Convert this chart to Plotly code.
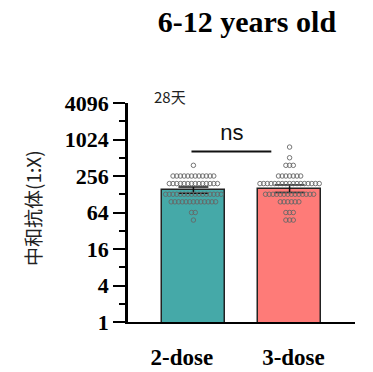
import plotly.graph_objects as go
import numpy as np

# ---- data ----
groups = ["2-dose", "3-dose"]
bar_gmt = [150, 158]
err_plus = [19, 24]
err_minus = [17, 21]
levels = [768, 512, 384, 256, 192, 128, 96, 64, 48]
counts_2dose = [0, 0, 1, 12, 14, 16, 13, 2, 1]
counts_3dose = [1, 1, 3, 7, 17, 14, 6, 3, 3]
y_ticks = [1, 4, 16, 64, 256, 1024, 4096]
y_minor = [2, 8, 32, 128, 512, 2048]
ns_y = 648
ns_text_y = 1225

colors = ["#45a9a8", "#fe7b78"]
xpos = [0, 1]
spacing = 0.0385

fig = go.Figure()
fig.add_trace(go.Bar(
    x=xpos, y=bar_gmt, width=0.66,
    marker=dict(color=colors, line=dict(color="#222222", width=1.5)),
    error_y=dict(type="data", array=err_plus, arrayminus=err_minus,
                 color="#111111", thickness=1.5, width=15),
    showlegend=False, hoverinfo="skip"))

for gi, counts in enumerate([counts_2dose, counts_3dose]):
    xs, ys = [], []
    for lv, n in zip(levels, counts):
        for j in range(n):
            xs.append(xpos[gi] + (j - (n - 1) / 2) * spacing)
            ys.append(lv)
    fig.add_trace(go.Scatter(
        x=xs, y=ys, mode="markers",
        marker=dict(symbol="circle-open", size=4.5, color="#666666",
                    line=dict(width=0.9, color="#666666")),
        showlegend=False, hoverinfo="skip"))

# significance line
fig.add_trace(go.Scatter(x=[-0.02, 0.81], y=[ns_y, ns_y], mode="lines",
                         line=dict(color="#111111", width=2),
                         showlegend=False, hoverinfo="skip"))
fig.add_trace(go.Scatter(x=[0.40], y=[ns_text_y], mode="text", text=["ns"],
                         textfont=dict(family="Liberation Sans", size=22, color="#111111"),
                         showlegend=False, hoverinfo="skip"))

fig.update_layout(
    width=373, height=372,
    margin=dict(l=128, r=18, t=103, b=50),
    plot_bgcolor="white", paper_bgcolor="white",
    bargap=0,
    title=dict(text="6-12 years old", x=0.662, xref="container", xanchor="center",
               y=1 - 21 / 372, yref="container", yanchor="middle",
               font=dict(family="Liberation Serif", size=30, color="black", weight="bold")),
    xaxis=dict(range=[-0.68, 1.68], showline=True, linecolor="black", linewidth=2,
               showgrid=False, zeroline=False, automargin=False,
               tickvals=[-0.12, 1.04], ticktext=groups, ticks="",
               ticklabelstandoff=13,
               tickfont=dict(family="Liberation Serif", size=23, color="black", weight="bold")),
    yaxis=dict(type="log", range=[0, np.log10(4096)], showline=True, linecolor="black",
               linewidth=2.5, showgrid=False, zeroline=False, automargin=False,
               tickvals=y_ticks, ticktext=[str(v) for v in y_ticks],
               ticks="outside", ticklen=12, tickwidth=2.2, tickcolor="black",
               minor=dict(tickvals=y_minor, ticks="outside", ticklen=6, tickwidth=2.2,
                          tickcolor="black", showgrid=False),
               tickfont=dict(family="Liberation Serif", size=22, color="black", weight="bold")),
    annotations=[
        dict(text="28天", xref="paper", yref="paper", x=(152 - 128) / 227, y=(322 - 97) / 219,
             xanchor="left", yanchor="middle", showarrow=False,
             font=dict(family="Noto Sans CJK SC", size=15, color="#222222")),
        dict(text="中和抗体(1:X)", xref="paper", yref="paper", x=(32 - 128) / 227, y=(322 - 208) / 219,
             xanchor="center", yanchor="middle", textangle=-90, showarrow=False,
             font=dict(family="Noto Sans CJK SC", size=19, color="#222222")),
    ],
)

fig.write_html("out.html")
